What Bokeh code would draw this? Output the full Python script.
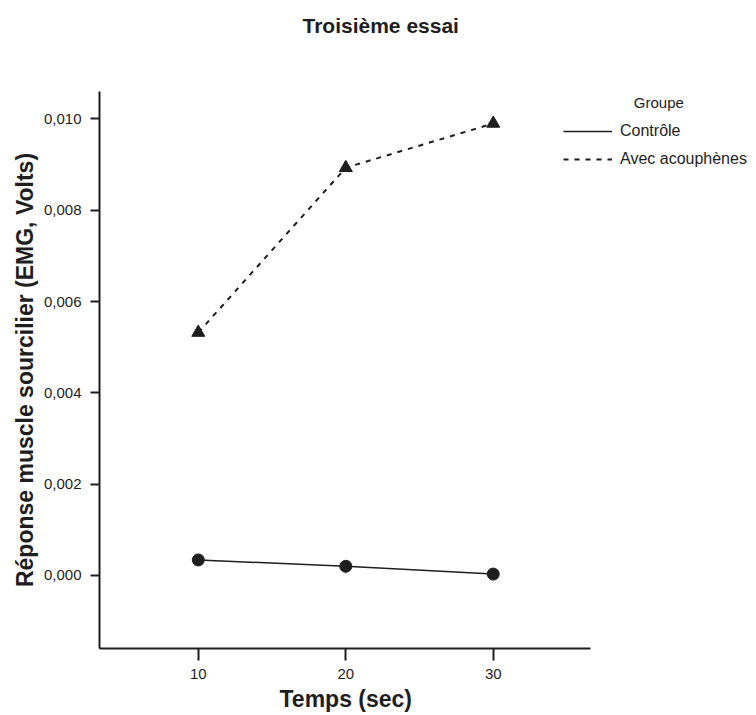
from bokeh.plotting import figure
from bokeh.models import Range1d, FixedTicker, Legend, LegendItem, Title
from bokeh.embed import file_html
from bokeh.resources import INLINE

# Data
temps = [10, 20, 30]
controle = [0.00034, 0.00020, 0.00003]
acouphenes = [0.00532, 0.00893, 0.00990]
x_ticks = [10, 20, 30]
y_ticks = [0.0, 0.002, 0.004, 0.006, 0.008, 0.010]
y_tick_labels = ["0,000", "0,002", "0,004", "0,006", "0,008", "0,010"]

FONT = "Liberation Sans"
INK = "#1e1e1e"

# frame spans to the right edge so the legend is not clipped;
# the drawn x axis is limited to its bounds
p = figure(width=756, height=715, output_backend="svg", toolbar_location=None,
           x_range=Range1d(3.3, 47.85), y_range=Range1d(-0.0016, 0.0106),
           min_border_left=99, min_border_right=0, min_border_top=0, min_border_bottom=67)
p.outline_line_color = None
p.grid.grid_line_color = None
p.background_fill_color = "white"
p.border_fill_color = "white"

# spacer between frame and title, then the title itself
p.add_layout(Title(text="\u00a0", standoff=40, text_font_size="1px", text_color="white"), "above")
title = Title(text="Troisième essai", align="left", offset=203,
              text_font=FONT, text_font_size="21px", text_font_style="bold",
              text_color=INK, standoff=23)
p.add_layout(title, "above")

for ax in (p.xaxis[0], p.yaxis[0]):
    ax.axis_line_width = 2
    ax.axis_line_color = INK
    ax.major_tick_line_width = 2
    ax.major_tick_line_color = INK
    ax.major_tick_in = 0
    ax.minor_tick_line_color = None
    ax.major_label_text_font = FONT
    ax.major_label_text_font_size = "15px"
    ax.major_label_text_font_style = "normal"
    ax.major_label_text_color = INK
    ax.axis_label_text_font = FONT
    ax.axis_label_text_font_style = "bold"
    ax.axis_label_text_color = INK

p.xaxis.major_tick_out = 12
p.yaxis.major_tick_out = 9
p.xaxis.bounds = (3.3, 36.6)
p.yaxis.axis_label_text_font_size = "23px"
p.xaxis.ticker = FixedTicker(ticks=x_ticks)
p.yaxis.ticker = FixedTicker(ticks=y_ticks)
p.yaxis.major_label_overrides = {t: l for t, l in zip(y_ticks, y_tick_labels)}
p.yaxis.axis_label = "Réponse muscle sourcilier (EMG, Volts)"
p.xaxis.major_label_standoff = 8
p.yaxis.major_label_standoff = 9
p.yaxis.axis_label_standoff = 3

xlabel = Title(text="Temps (sec)", align="left", offset=180,
               text_font=FONT, text_font_size="23px", text_font_style="bold",
               text_color=INK, standoff=4)
p.add_layout(xlabel, "below")

r1 = p.line(temps, controle, line_color=INK, line_width=1.5)
p.scatter(temps, controle, marker="circle", size=12, fill_color=INK, line_color=INK)
r2 = p.line(temps, acouphenes, line_color=INK, line_width=2, line_dash="5 6")
p.scatter(temps, acouphenes, marker="triangle", size=13, fill_color=INK, line_color=INK)

legend = Legend(items=[LegendItem(label="Contrôle", renderers=[r1]),
                       LegendItem(label="Avec acouphènes", renderers=[r2])],
                location=(464, 479),
                title="\u00a0" * 17 + "Groupe")
legend.border_line_color = None
legend.background_fill_alpha = 0
legend.title_text_font = FONT
legend.title_text_font_size = "15px"
legend.title_text_font_style = "normal"
legend.title_text_color = INK
legend.label_text_font = FONT
legend.label_text_font_size = "16px"
legend.label_text_color = INK
legend.glyph_width = 49
legend.glyph_height = 20
legend.label_standoff = 8
legend.spacing = 8
legend.padding = 0
legend.margin = 0
legend.title_standoff = 10
p.add_layout(legend, "center")

open("out.html", "w").write(file_html(p, INLINE))
